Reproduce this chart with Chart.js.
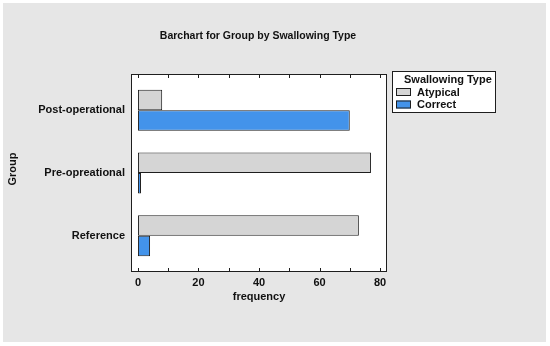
<!DOCTYPE html>
<html>
<head>
<meta charset="utf-8">
<script src="https://cdn.jsdelivr.net/npm/chart.js@4"></script>
<style>
  html, body { margin: 0; padding: 0; background: #fff; }
  canvas { display: block; }
</style>
</head>
<body>
<canvas id="chart" width="550" height="346"></canvas>
<script>
'use strict';
// data
let groups = ['Post-operational', 'Pre-opreational', 'Reference'];
let atypical = [8, 77, 73];
let correct = [70, 1, 4];
let seriesNames = ['Atypical', 'Correct'];
let xTicks = [0, 10, 20, 30, 40, 50, 60, 70, 80];

let font = '"Liberation Sans", Arial, sans-serif';
let edge = '#1e1e1e';

// gray page, white plot box, inward tick marks, titles and the legend box
let decor = {
  id: 'decor',
  beforeDraw(chart) {
    let ctx = chart.ctx;
    let a = chart.chartArea;
    ctx.save();
    ctx.fillStyle = '#e6e6e6';
    ctx.fillRect(3, 3, 543, 339);
    ctx.fillStyle = '#fff';
    ctx.fillRect(a.left, a.top, a.right - a.left, a.bottom - a.top);
    ctx.restore();
  },
  afterDraw(chart) {
    let ctx = chart.ctx;
    let a = chart.chartArea;
    let xs = chart.scales.x;
    ctx.save();
    ctx.strokeStyle = edge;
    ctx.lineWidth = 1;
    ctx.strokeRect(a.left + 0.5, a.top + 0.5, a.right - a.left - 1, a.bottom - a.top - 1);
    ctx.beginPath();
    for (let i = 0; i < xTicks.length; i++) {
      let px = Math.round(xs.getPixelForValue(xTicks[i])) + 0.5;
      ctx.moveTo(px, a.top);
      ctx.lineTo(px, a.top + 4);
      ctx.moveTo(px, a.bottom);
      ctx.lineTo(px, a.bottom - 4);
    }
    ctx.stroke();

    ctx.fillStyle = '#111';
    ctx.textAlign = 'center';
    ctx.textBaseline = 'middle';
    ctx.font = 'bold 10.5px ' + font;
    ctx.fillText('Barchart for Group by Swallowing Type', 258, 36);
    ctx.font = 'bold 11px ' + font;
    ctx.fillText('frequency', 259, 297);
    ctx.save();
    ctx.translate(13, 169);
    ctx.rotate(-Math.PI / 2);
    ctx.fillText('Group', 0, 0);
    ctx.restore();

    // legend
    ctx.fillStyle = '#fff';
    ctx.fillRect(392, 71, 104, 42);
    ctx.strokeRect(392.5, 71.5, 103, 41);
    ctx.fillStyle = '#111';
    ctx.font = 'bold 11px ' + font;
    ctx.textAlign = 'left';
    ctx.fillText('Swallowing Type', 404, 80);
    let ds = chart.data.datasets;
    for (let i = 0; i < ds.length; i++) {
      let y = 88 + i * 12.5;
      ctx.fillStyle = ds[i].backgroundColor;
      ctx.fillRect(396, y, 15, 8);
      ctx.strokeRect(396.5, y + 0.5, 14, 7);
      ctx.fillStyle = '#111';
      ctx.fillText(ds[i].label, 417, y + 4.5);
    }
    ctx.restore();
  }
};

new Chart(document.getElementById('chart'), {
  type: 'bar',
  data: {
    datasets: [{
      label: seriesNames[0],
      data: atypical.map((v, i) => ({ x: v, y: i })),
      backgroundColor: '#d5d5d5',
      borderColor: edge,
      borderWidth: 1,
      borderSkipped: false
    },
    {
      label: seriesNames[1],
      data: correct.map((v, i) => ({ x: v, y: i })),
      backgroundColor: '#4393ea',
      borderColor: edge,
      borderWidth: 1,
      borderSkipped: false
    }]
  },
  options: {
    indexAxis: 'y',
    responsive: false,
    animation: false,
    devicePixelRatio: 1,
    barPercentage: 1,
    categoryPercentage: 0.655,
    layout: { padding: { left: 4, top: 74, right: 163, bottom: 0 } },
    plugins: {
      legend: { display: false },
      title: { display: false },
      tooltip: { enabled: false }
    },
    scales: {
      y: {
        type: 'linear',
        reverse: true,
        offset: false,
        min: -0.58,
        max: 2.58,
        afterFit: (s) => { s.width = 127; },
        afterBuildTicks: (s) => { s.ticks = groups.map((g, i) => ({ value: i })); },
        grid: { display: false, drawTicks: false, offset: false },
        border: { display: false },
        ticks: {
          padding: 6,
          color: '#111',
          font: { family: font, size: 11, weight: 'bold' },
          callback: (v) => groups[v]
        }
      },
      x: {
        type: 'linear',
        min: -2.3,
        max: 82.3,
        afterFit: (s) => { s.height = 74; },
        afterBuildTicks: (s) => { s.ticks = xTicks.filter(v => v % 20 === 0).map(v => ({ value: v })); },
        grid: { display: false, drawTicks: false },
        border: { display: false },
        ticks: {
          padding: 4,
          color: '#111',
          maxRotation: 0,
          font: { family: font, size: 11, weight: 'bold' }
        }
      }
    }
  },
  plugins: [decor]
});
</script>
</body>
</html>
